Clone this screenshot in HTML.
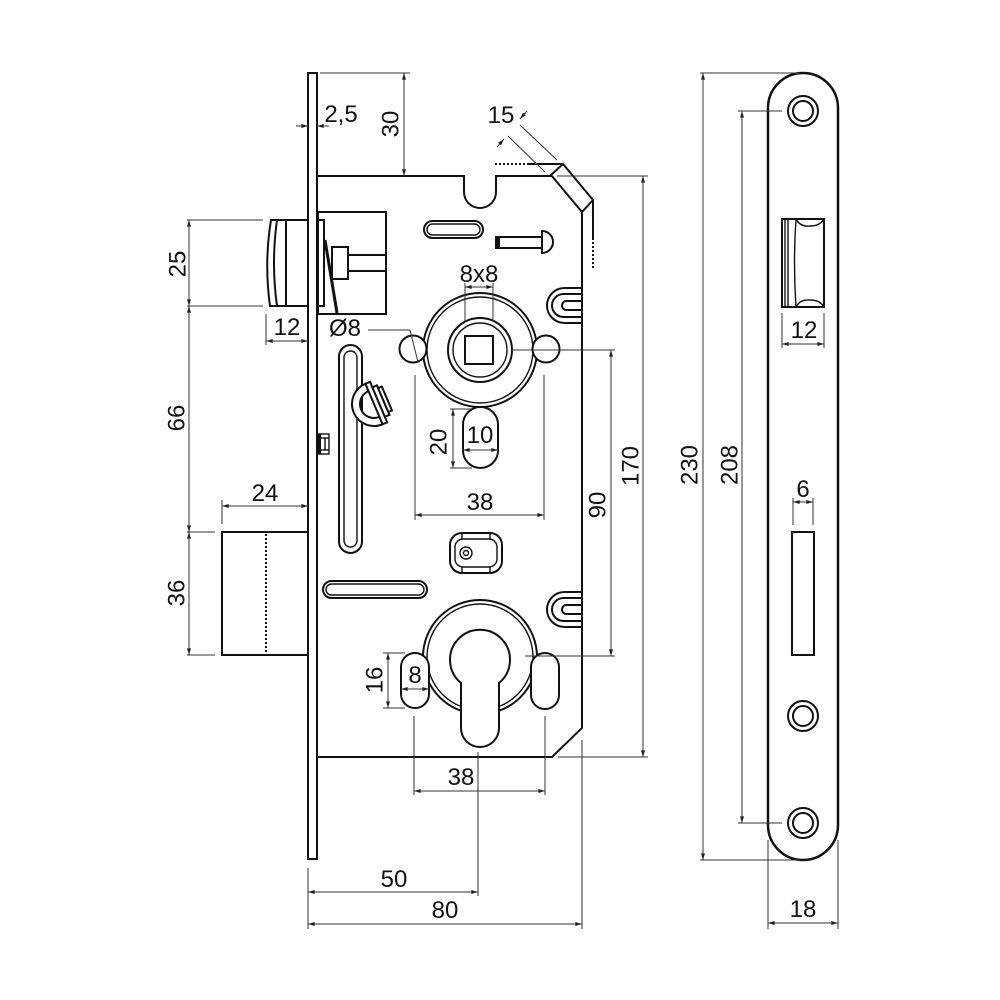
<!DOCTYPE html>
<html>
<head>
<meta charset="utf-8">
<style>
html,body{margin:0;padding:0;background:#fff;}
svg{display:block;}
text{font-family:"Liberation Sans",Arial,sans-serif;font-size:24px;fill:#111;text-anchor:middle;}
.o{fill:none;stroke:#111;stroke-width:2;}
.ow{fill:#fff;stroke:#111;stroke-width:2;}
.t{fill:none;stroke:#111;stroke-width:1.4;}
.d{fill:none;stroke:#333;stroke-width:1;}
.da{fill:none;stroke:#333;stroke-width:1;marker-start:url(#a);marker-end:url(#a);}
.de{fill:none;stroke:#333;stroke-width:1;marker-end:url(#a);}
</style>
</head>
<body>
<svg width="1000" height="1000" viewBox="0 0 1000 1000" xmlns="http://www.w3.org/2000/svg">
<defs>
<marker id="a" viewBox="0 0 10 6" refX="10" refY="3" markerWidth="7" markerHeight="4" markerUnits="userSpaceOnUse" orient="auto-start-reverse"><path d="M0,0 L10,3 L0,6 z" fill="#222"/></marker>
</defs>
<rect width="1000" height="1000" fill="#fff"/>

<!-- ===== LEFT: deadbolt ===== -->
<rect x="222" y="532" width="86" height="123" class="ow"/>
<line x1="266" y1="534" x2="266" y2="654" stroke="#111" stroke-width="2" stroke-dasharray="2 2"/>

<!-- latch -->
<path d="M308 220 L271 220 Q264 263 270 306 L308 306" class="ow"/>
<path d="M277 220 Q271 263 277 306" class="o"/>
<line x1="286" y1="220" x2="286" y2="306" class="o"/>

<!-- faceplate -->
<rect x="308" y="73" width="9" height="786" class="ow"/>

<!-- body outline -->
<path d="M317 176 L464 176 L464 192 A16 16 0 0 0 496 192 L496 176 L552 176" class="o"/>
<path d="M582 212 L582 728 L552 757 L317 757" class="o"/>
<!-- chamfer block -->
<path d="M551 175 L563 164 L593 200 L582 212 Z" class="o"/>
<line x1="527" y1="164" x2="563" y2="164" class="o"/>
<line x1="495" y1="164" x2="526" y2="164" stroke="#111" stroke-width="2" stroke-dasharray="2 2"/>
<line x1="593" y1="200" x2="593" y2="240" class="o"/>
<line x1="593" y1="242" x2="593" y2="268" stroke="#111" stroke-width="2" stroke-dasharray="2 2"/>

<!-- latch mechanism in body -->
<rect x="318" y="212" width="68" height="102" class="o"/>
<rect x="318" y="220" width="6" height="86" class="o"/>
<line x1="325" y1="240" x2="337" y2="313" stroke="#111" stroke-width="3"/>
<line x1="348" y1="255" x2="386" y2="255" class="o"/>
<line x1="348" y1="271" x2="386" y2="271" class="o"/>
<rect x="332" y="247" width="16" height="32" class="ow"/>

<!-- top slot -->
<rect x="424" y="221" width="59" height="17" rx="8.5" class="o"/>
<rect x="427" y="224" width="53" height="11" rx="5.5" class="t"/>

<!-- pin -->
<rect x="496" y="237" width="46" height="11" class="o"/>
<rect x="496" y="237" width="4" height="11" fill="#111"/>
<path d="M542 231 A11 11 0 0 1 542 253 Z" class="ow"/>

<!-- U slots -->
<path d="M582 288 L564.5 288 A17.5 17.5 0 0 0 564.5 323 L582 323" class="o"/>
<path d="M582 294 L563.5 294 A11.5 11.5 0 0 0 563.5 317 L582 317" class="o"/>
<path d="M582 301 L566.5 301 A4.5 4.5 0 0 0 566.5 310 L582 310" class="o"/>
<path d="M582 592 L564.5 592 A17.5 17.5 0 0 0 564.5 627 L582 627" class="o"/>
<path d="M582 598 L563.5 598 A11.5 11.5 0 0 0 563.5 621 L582 621" class="o"/>
<path d="M582 605 L566.5 605 A4.5 4.5 0 0 0 566.5 614 L582 614" class="o"/>

<!-- spindle follower -->
<circle cx="480" cy="350" r="57" class="o"/>
<circle cx="480" cy="350" r="53" class="t"/>
<circle cx="480" cy="350" r="32" class="o"/>
<circle cx="480" cy="350" r="27" class="t"/>
<rect x="465" y="336" width="28" height="28" class="o"/>
<circle cx="413" cy="349" r="13.5" class="ow"/>
<circle cx="546" cy="349" r="13.5" class="ow"/>

<!-- oval slot 20x10 -->
<rect x="463" y="407" width="35" height="61" rx="17.5" class="o"/>

<!-- long vertical slot -->
<rect x="339" y="345" width="23" height="208" rx="11.5" class="o"/>
<rect x="344" y="351" width="13" height="196" rx="6.5" class="t"/>

<!-- half-moon piece -->
<g transform="translate(374 404) rotate(-23)">
  <path d="M0 -22 A22 22 0 0 0 0 22 L0 14 A14 14 0 0 1 0 -14 Z" class="ow"/>
  <rect x="0" y="-22" width="5" height="44" class="ow"/>
  <rect x="5" y="-16" width="5" height="32" class="ow"/>
  <rect x="10" y="-13" width="4" height="26" class="ow"/>
</g>

<!-- small component on faceplate -->
<rect x="318" y="434" width="11" height="20" class="t"/>
<rect x="318" y="434" width="3" height="20" fill="#111"/>
<line x1="321" y1="438" x2="329" y2="438" class="t"/>
<line x1="321" y1="450" x2="329" y2="450" class="t"/>
<line x1="325" y1="438" x2="325" y2="450" class="t"/>

<!-- spring piece -->
<rect x="450" y="533" width="52" height="40" rx="12" class="o"/>
<rect x="455" y="539" width="42" height="28" rx="8" class="t"/>
<line x1="462" y1="533" x2="462" y2="539" class="t"/>
<line x1="490" y1="533" x2="490" y2="539" class="t"/>
<line x1="462" y1="567" x2="462" y2="573" class="t"/>
<line x1="490" y1="567" x2="490" y2="573" class="t"/>
<circle cx="466" cy="553" r="6" class="t"/>
<circle cx="466" cy="553" r="2.5" class="t"/>

<!-- bottom horizontal slot -->
<rect x="323" y="581" width="104" height="17" rx="8.5" class="o"/>
<rect x="326" y="584" width="98" height="11" rx="5.5" class="t"/>

<!-- cylinder -->
<circle cx="480" cy="657" r="57" class="o"/>
<circle cx="480" cy="657" r="53" class="t"/>
<path d="M461 683 A30 30 0 1 1 499 683 L499 728 A19 19 0 0 1 461 728 Z" class="ow"/>
<rect x="401" y="653" width="28" height="55" rx="14" class="ow"/>
<rect x="531" y="653" width="28" height="56" rx="14" class="ow"/>

<!-- ===== dimensions left drawing ===== -->
<!-- 2,5 -->
<line x1="296" y1="126" x2="308" y2="126" class="de"/>
<line x1="329" y1="126" x2="317" y2="126" class="de"/>
<text x="341" y="122">2,5</text>
<!-- 30 -->
<line x1="320" y1="73" x2="410" y2="73" class="d"/>
<line x1="404" y1="73" x2="404" y2="176" class="da"/>
<text x="390" y="132.6" transform="rotate(-90 390 124)">30</text>
<!-- 15 -->
<line x1="557" y1="160" x2="520" y2="125" class="d"/>
<line x1="545" y1="172" x2="508" y2="136" class="d"/>
<line x1="527" y1="111" x2="520" y2="119" class="de"/>
<line x1="497" y1="147" x2="504" y2="139" class="de"/>
<text x="501" y="123">15</text>
<!-- 25 / 66 / 36 -->
<line x1="187" y1="220" x2="263" y2="220" class="d"/>
<line x1="187" y1="306" x2="263" y2="306" class="d"/>
<line x1="187" y1="532" x2="215" y2="532" class="d"/>
<line x1="187" y1="655" x2="215" y2="655" class="d"/>
<line x1="189" y1="220" x2="189" y2="306" class="da"/>
<line x1="189" y1="306" x2="189" y2="532" class="da"/>
<line x1="189" y1="532" x2="189" y2="655" class="da"/>
<text x="177" y="272.6" transform="rotate(-90 177 264)">25</text>
<text x="176" y="426.6" transform="rotate(-90 176 418)">66</text>
<text x="176" y="601.6" transform="rotate(-90 176 593)">36</text>
<!-- 12 latch -->
<line x1="266" y1="314" x2="266" y2="345" class="d"/>
<line x1="266" y1="341" x2="308" y2="341" class="da"/>
<text x="287" y="335">12</text>
<!-- 24 -->
<line x1="222" y1="500" x2="222" y2="524" class="d"/>
<line x1="222" y1="506" x2="308" y2="506" class="da"/>
<text x="265" y="501">24</text>
<!-- Ø8 -->
<polyline points="368,330 410,330 418,362" class="d"/>
<text x="345" y="336">Ø8</text>
<!-- 8x8 -->
<line x1="465" y1="283" x2="465" y2="322" class="d"/>
<line x1="493" y1="283" x2="493" y2="322" class="d"/>
<line x1="465" y1="287" x2="493" y2="287" class="da"/>
<text x="479" y="282">8x8</text>
<!-- 10 -->
<line x1="463" y1="450" x2="498" y2="450" class="da"/>
<text x="480" y="443">10</text>
<!-- 20 -->
<line x1="450" y1="409" x2="472" y2="409" class="d"/>
<line x1="450" y1="468" x2="472" y2="468" class="d"/>
<line x1="453" y1="409" x2="453" y2="468" class="da"/>
<text x="438" y="450.6" transform="rotate(-90 438 442)">20</text>
<!-- 38 upper -->
<line x1="415" y1="375" x2="415" y2="520" class="d"/>
<line x1="544" y1="375" x2="544" y2="520" class="d"/>
<line x1="415" y1="515" x2="544" y2="515" class="da"/>
<text x="480" y="510">38</text>
<!-- 90 -->
<line x1="512" y1="350" x2="615" y2="350" class="d"/>
<line x1="525" y1="656" x2="615" y2="656" class="d"/>
<line x1="611" y1="350" x2="611" y2="656" class="da"/>
<text x="597" y="513.6" transform="rotate(-90 597 505)">90</text>
<!-- 170 -->
<line x1="557" y1="176" x2="648" y2="176" class="d"/>
<line x1="558" y1="757" x2="648" y2="757" class="d"/>
<line x1="643" y1="176" x2="643" y2="757" class="da"/>
<text x="630" y="474.6" transform="rotate(-90 630 466)">170</text>
<!-- 16 -->
<line x1="383" y1="653" x2="405" y2="653" class="d"/>
<line x1="383" y1="708" x2="405" y2="708" class="d"/>
<line x1="388" y1="653" x2="388" y2="708" class="da"/>
<text x="374" y="688.6" transform="rotate(-90 374 680)">16</text>
<!-- 8 -->
<line x1="401" y1="689" x2="429" y2="689" class="da"/>
<text x="415" y="683">8</text>
<!-- 38 lower -->
<line x1="414" y1="716" x2="414" y2="795" class="d"/>
<line x1="545" y1="716" x2="545" y2="795" class="d"/>
<line x1="414" y1="791" x2="545" y2="791" class="da"/>
<text x="461" y="785">38</text>
<!-- 50 -->
<line x1="478" y1="752" x2="478" y2="896" class="d"/>
<line x1="308" y1="868" x2="308" y2="929" class="d"/>
<line x1="308" y1="892" x2="478" y2="892" class="da"/>
<text x="394" y="887">50</text>
<!-- 80 -->
<line x1="582" y1="740" x2="582" y2="929" class="d"/>
<line x1="308" y1="924" x2="582" y2="924" class="da"/>
<text x="445" y="918">80</text>

<!-- ===== RIGHT: strike/face plate ===== -->
<path d="M768 108 A35 35 0 0 1 838 108 L838 825 A35 35 0 0 1 768 825 Z" fill="#fff" stroke="#111" stroke-width="2.5"/>
<circle cx="803" cy="111" r="15" class="o"/>
<circle cx="803" cy="111" r="10" class="o"/>
<circle cx="803" cy="716" r="15" class="o"/>
<circle cx="803" cy="716" r="10" class="o"/>
<circle cx="803" cy="823" r="15" class="o"/>
<circle cx="803" cy="823" r="10" class="o"/>
<!-- latch opening -->
<rect x="782" y="219" width="42" height="88" class="o"/>
<line x1="785" y1="219" x2="785" y2="307" class="t"/>
<line x1="788" y1="219" x2="788" y2="307" class="t"/>
<path d="M796 219 Q793 263 796 307" class="t"/>
<path d="M796 219 Q800 227 810 226 Q820 226 824 219" class="t"/>
<path d="M796 307 Q800 299 810 300 Q820 300 824 307" class="t"/>
<!-- bolt opening -->
<rect x="792" y="532" width="22" height="123" class="o"/>

<!-- right dimensions -->
<line x1="700" y1="73" x2="800" y2="73" class="d"/>
<line x1="700" y1="860" x2="800" y2="860" class="d"/>
<line x1="703" y1="73" x2="703" y2="860" class="da"/>
<text x="689" y="473.6" transform="rotate(-90 689 465)">230</text>
<line x1="738" y1="111" x2="782" y2="111" class="d"/>
<line x1="738" y1="823" x2="782" y2="823" class="d"/>
<line x1="742" y1="111" x2="742" y2="823" class="da"/>
<text x="729" y="473.6" transform="rotate(-90 729 465)">208</text>
<line x1="782" y1="313" x2="782" y2="348" class="d"/>
<line x1="824" y1="313" x2="824" y2="348" class="d"/>
<line x1="782" y1="344" x2="824" y2="344" class="da"/>
<text x="804" y="338">12</text>
<line x1="793" y1="498" x2="793" y2="525" class="d"/>
<line x1="813" y1="498" x2="813" y2="525" class="d"/>
<line x1="793" y1="502" x2="813" y2="502" class="da"/>
<text x="803" y="497">6</text>
<line x1="768" y1="840" x2="768" y2="929" class="d"/>
<line x1="838" y1="840" x2="838" y2="929" class="d"/>
<line x1="768" y1="923" x2="838" y2="923" class="da"/>
<text x="803" y="917">18</text>
</svg>
</body>
</html>
